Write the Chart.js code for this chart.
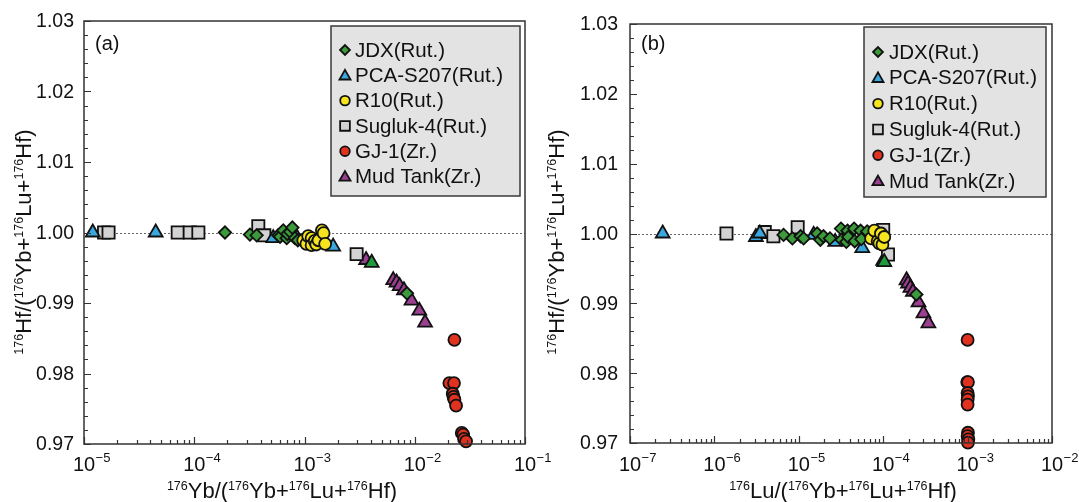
<!DOCTYPE html>
<html><head><meta charset="utf-8">
<script src="https://cdn.jsdelivr.net/npm/chart.js@4.4.1/dist/chart.umd.min.js"></script>
<style>
html,body{margin:0;padding:0;background:#fff;}
body{width:1079px;height:502px;position:relative;overflow:hidden;}
canvas{position:absolute;top:0;left:0;}
</style></head><body>
<canvas id="ca" width="1079" height="502"></canvas>
<canvas id="cb" width="1079" height="502"></canvas>
<script>
// ---------- data ----------
const seriesLabels = ['JDX(Rut.)','PCA-S207(Rut.)','R10(Rut.)','Sugluk-4(Rut.)','GJ-1(Zr.)','Mud Tank(Zr.)'];
const yTickValues = [0.97,0.98,0.99,1.00,1.01,1.02,1.03];
const yTickLabels = ['0.97','0.98','0.99','1.00','1.01','1.02','1.03'];
const xDecadesA = [-5,-4,-3,-2,-1];
const xDecadesB = [-7,-6,-5,-4,-3,-2];

// Panel (a): x = 176Yb/(176Yb+176Lu+176Hf), y = 176Hf/(176Yb+176Lu+176Hf)
const jdxA_x = [1.90e-4,3.2e-4,3.68e-4,5.78e-4,6.0e-4,6.42e-4,6.9e-4,7.0e-4,7.4e-4,7.76e-4,8.2e-4,8.7e-4,8.5e-3];
const jdxA_y = [1.0000,0.9997,0.9996,0.9996,0.9994,1.0003,0.9992,0.9998,1.0001,1.0007,0.9992,0.9989,0.99137];
const pcaA_x = [1.2e-5,4.47e-5,5.21e-4,8.1e-4,1.82e-3];
const pcaA_y = [1.0000,1.0000,0.9992,0.9999,0.9980];
const r10A_x = [9.75e-4,1.04e-3,1.08e-3,1.16e-3,1.16e-3,1.24e-3,1.28e-3,1.34e-3,1.44e-3,1.49e-3,1.54e-3];
const r10A_y = [0.9989,0.9984,0.9995,0.9992,0.9982,0.9988,0.9983,0.9989,1.0003,0.9999,0.9984];
const sugA_x = [1.52e-5,1.67e-5,7.08e-5,9.1e-5,1.09e-4,3.81e-4,4.32e-4,2.97e-3];
const sugA_y = [1.0000,1.0000,1.0000,1.0000,1.0000,1.0009,0.9996,0.99693];
const gjA_x = [2.29e-2,2.06e-2,2.27e-2,2.21e-2,2.25e-2,2.29e-2,2.37e-2,2.67e-2,2.75e-2,2.80e-2,2.92e-2];
const gjA_y = [0.98477,0.97864,0.97864,0.97713,0.97668,0.97628,0.97543,0.97157,0.97133,0.97072,0.97038];
const mudA_x = [3.62e-3,6.38e-3,6.83e-3,7.3e-3,7.98e-3,9.35e-3,1.10e-2,1.24e-2];
const mudA_y = [0.9961,0.99325,0.9929,0.9924,0.9918,0.99033,0.98891,0.98721];
const othA_x = [4.07e-3];
const othA_y = [0.9957];

// Panel (b): x = 176Lu/(176Yb+176Lu+176Hf)
const jdxB_x = [6.6e-6,8.4e-6,1.05e-5,1.14e-5,1.65e-5,1.8e-5,1.96e-5,2.34e-5,3.16e-5,3.22e-5,3.66e-5,3.78e-5,3.86e-5,4.52e-5,4.6e-5,5.4e-5,5.5e-5,6.46e-5,2.47e-4];
const jdxB_y = [0.9998,0.9993,0.9996,0.9993,1.0000,0.9991,0.9996,0.9993,1.0007,0.9991,0.9988,1.0004,0.9995,1.0007,0.9989,1.0004,0.9992,1.0003,0.99127];
const pcaB_x = [2.44e-7,3.1e-6,3.45e-6,1.5e-5,2.7e-5,5.65e-5];
const pcaB_y = [1.0000,0.9995,1.0000,0.9998,0.9988,0.9979];
const r10B_x = [7.19e-5,7.85e-5,8.6e-5,9.0e-5,9.4e-5,9.8e-5,1.03e-4];
const r10B_y = [0.9993,1.0004,0.9989,0.9986,1.0000,0.9984,0.9995];
const sugB_x = [1.39e-6,3.95e-6,5.0e-6,9.7e-6,1.0e-4,1.14e-4];
const sugB_y = [1.0000,1.0002,0.9996,1.0009,1.0005,0.9970];
const gjB_x = [1.00e-3,0.99e-3,1.01e-3,1.00e-3,1.01e-3,1.00e-3,1.00e-3,1.01e-3,1.00e-3,1.02e-3,1.01e-3];
const gjB_y = [0.98476,0.97873,0.97873,0.97716,0.97668,0.97621,0.9755,0.97147,0.97099,0.97051,0.97004];
const mudB_x = [1.0e-4,1.89e-4,1.97e-4,2.1e-4,2.25e-4,2.62e-4,3.0e-4,3.43e-4];
const mudB_y = [0.9961,0.9933,0.99284,0.99221,0.99164,0.99013,0.98856,0.98714];
const othB_x = [1.03e-4];
const othB_y = [0.9959];

// ---------- styles ----------
const FONT = '"Liberation Sans", Arial, Helvetica, sans-serif';
const STY = [
  {shape:'rectRot',  color:'#3b9b3b', r:6.2, order:2},
  {shape:'triangle', color:'#3aa7de', r:8.0, order:3},
  {shape:'circle',   color:'#f5e41e', r:6.0, order:1},
  {shape:'rect',     color:'#d3d3d3', r:8.6, order:4},
  {shape:'circle',   color:'#e1311f', r:6.0, order:6},
  {shape:'triangle', color:'#9b3f91', r:8.0, order:5},
  {shape:'triangle', color:'#1f9a3d', r:8.0, order:2}
];

function pts(xs, ys){ return xs.map((x,i)=>({x:x, y:ys[i]})); }

function drawShape(ctx, shape, x, y, r, fill){
  ctx.beginPath();
  if (shape==='circle'){ ctx.arc(x,y,r,0,Math.PI*2); }
  else if (shape==='rect'){ const s=r*Math.SQRT1_2; ctx.rect(x-s,y-s,2*s,2*s); }
  else if (shape==='rectRot'){ ctx.moveTo(x-r,y); ctx.lineTo(x,y-r); ctx.lineTo(x+r,y); ctx.lineTo(x,y+r); ctx.closePath(); }
  else if (shape==='triangle'){ ctx.moveTo(x,y-r); ctx.lineTo(x+0.866*r,y+0.5*r); ctx.lineTo(x-0.866*r,y+0.5*r); ctx.closePath(); }
  ctx.fillStyle=fill; ctx.fill();
  ctx.lineWidth=1.8; ctx.strokeStyle='#111'; ctx.stroke();
}

function richWidth(ctx, parts, M, S){
  let w=0;
  for (const p of parts){ ctx.font=(p[1]?S:M)+'px '+FONT; w+=ctx.measureText(p[0]).width; }
  return w;
}
function drawRich(ctx, parts, x, y, M, S, raise){
  let cx=x;
  ctx.textAlign='left'; ctx.textBaseline='alphabetic';
  for (const p of parts){
    ctx.font=(p[1]?S:M)+'px '+FONT;
    ctx.fillText(p[0], cx, p[1]? y-raise : y);
    cx+=ctx.measureText(p[0]).width;
  }
}
const TITLE_Y = [['176',1],['Hf/(',0],['176',1],['Yb+',0],['176',1],['Lu+',0],['176',1],['Hf)',0]];
const TITLE_XA = [['176',1],['Yb/(',0],['176',1],['Yb+',0],['176',1],['Lu+',0],['176',1],['Hf)',0]];
const TITLE_XB = [['176',1],['Lu/(',0],['176',1],['Yb+',0],['176',1],['Lu+',0],['176',1],['Hf)',0]];

function decor(P){
  return {
    id:'decor',
    beforeDatasetsDraw(chart){
      const ctx=chart.ctx, a=chart.chartArea, ys=chart.scales.y;
      ctx.save();
      ctx.strokeStyle='#666'; ctx.lineWidth=1; ctx.setLineDash([2,2]);
      const py=Math.round(ys.getPixelForValue(1.0))+0.5;
      ctx.beginPath(); ctx.moveTo(a.left,py); ctx.lineTo(a.right,py); ctx.stroke();
      ctx.restore();
    },
    afterDatasetsDraw(chart){
      const ctx=chart.ctx, a=chart.chartArea, xs=chart.scales.x, ys=chart.scales.y;
      ctx.save();
      // frame
      ctx.strokeStyle='#333'; ctx.lineWidth=1.5;
      ctx.strokeRect(a.left,a.top,a.right-a.left,a.bottom-a.top);
      // y ticks (inward, left axis)
      ctx.lineWidth=1.2; ctx.beginPath();
      for (let i=0;i<=30;i++){
        const v=0.97+i*0.002, py=Math.round(ys.getPixelForValue(v))+0.5;
        const L=(i%5===0)?7:4;
        ctx.moveTo(a.left,py); ctx.lineTo(a.left+L,py);
      }
      // x ticks (inward, bottom)
      const decs=P.decades;
      for (let di=0;di<decs.length;di++){
        const d=decs[di];
        for (let k=1;k<=9;k++){
          if (di===decs.length-1 && k>1) break;
          const px=Math.round(xs.getPixelForValue(k*Math.pow(10,d)))+0.5;
          const L=(k===1)?7:4;
          ctx.moveTo(px,a.bottom); ctx.lineTo(px,a.bottom-L);
        }
      }
      ctx.stroke();
      // y tick labels
      ctx.fillStyle='#111';
      ctx.font='19.5px '+FONT; ctx.textAlign='right'; ctx.textBaseline='middle';
      yTickValues.forEach((v,i)=>{ ctx.fillText(yTickLabels[i], P.yLabelRight, ys.getPixelForValue(v)+1); });
      // x tick labels: 10 with superscript exponent
      decs.forEach(d=>{
        const px=xs.getPixelForValue(Math.pow(10,d));
        ctx.font='20px '+FONT; ctx.textAlign='center'; ctx.textBaseline='alphabetic';
        const w=ctx.measureText('10').width;
        ctx.fillText('10', px, P.xLabelBase);
        ctx.font='13px '+FONT; ctx.textAlign='left';
        ctx.fillText('\u2212'+Math.abs(d), px+w/2+0.5, P.xLabelBase-9);
      });
      // x title
      const wx=richWidth(ctx,P.xTitle,22,12.5);
      drawRich(ctx,P.xTitle,P.xTitleCx-wx/2,P.xTitleBase,22,12.5,8);
      // y title
      const wy=richWidth(ctx,TITLE_Y,22,12.5);
      ctx.save(); ctx.translate(P.yTitleCx,P.yTitleCy); ctx.rotate(-Math.PI/2);
      drawRich(ctx,TITLE_Y,-wy/2,8,22,12.5,8);
      ctx.restore();
      // panel label
      ctx.font='20px '+FONT; ctx.textAlign='left'; ctx.textBaseline='alphabetic';
      ctx.fillText(P.panel, P.panelX, P.panelBase);
      // legend
      const L=P.legend;
      ctx.fillStyle='#e3e3e3'; ctx.fillRect(L.x,L.y,L.w,L.h);
      ctx.strokeStyle='#3a3a3a'; ctx.lineWidth=1.5; ctx.strokeRect(L.x,L.y,L.w,L.h);
      for (let i=0;i<seriesLabels.length;i++){
        const cy=L.row0+i*L.dy, s=STY[i];
        drawShape(ctx,s.shape,L.mx,cy+(s.shape==='triangle'?1:0),s.r*0.8,s.color);
        ctx.fillStyle='#111'; ctx.font='20.5px '+FONT; ctx.textAlign='left'; ctx.textBaseline='middle';
        ctx.fillText(seriesLabels[i], L.tx, cy+1);
      }
      ctx.restore();
    }
  };
}

function makeDatasets(list){
  return list.map((d,i)=>({
    label: i<seriesLabels.length ? seriesLabels[i] : '',
    data: pts(d[0],d[1]),
    pointStyle: STY[i].shape,
    pointRadius: STY[i].r,
    pointBackgroundColor: STY[i].color,
    pointBorderColor: '#111',
    pointBorderWidth: 1.8,
    order: STY[i].order,
    clip: false,
    showLine: false
  }));
}

function makeChart(id, P){
  return new Chart(document.getElementById(id), {
    type:'scatter',
    data:{ datasets: makeDatasets(P.series) },
    options:{
      responsive:false, animation:false, devicePixelRatio:1, events:[],
      layout:{ padding:P.pad },
      plugins:{ legend:{display:false}, tooltip:{enabled:false} },
      scales:{
        x:{ type:'logarithmic', min:Math.pow(10,P.decades[0]), max:Math.pow(10,P.decades[P.decades.length-1]), display:false },
        y:{ type:'linear', min:0.97, max:1.03, display:false }
      }
    },
    plugins:[decor(P)]
  });
}

makeChart('ca', {
  series:[[jdxA_x,jdxA_y],[pcaA_x,pcaA_y],[r10A_x,r10A_y],[sugA_x,sugA_y],[gjA_x,gjA_y],[mudA_x,mudA_y],[othA_x,othA_y]],
  decades:xDecadesA,
  pad:{left:84,right:1079-525,top:21,bottom:58},
  yLabelRight:74, xLabelBase:471, xTitle:TITLE_XA, xTitleCx:282, xTitleBase:498,
  yTitleCx:23, yTitleCy:242, panel:'(a)', panelX:95, panelBase:50,
  legend:{x:331,y:26,w:189,h:170,row0:50,dy:25.3,mx:345,tx:355}
});
makeChart('cb', {
  series:[[jdxB_x,jdxB_y],[pcaB_x,pcaB_y],[r10B_x,r10B_y],[sugB_x,sugB_y],[gjB_x,gjB_y],[mudB_x,mudB_y],[othB_x,othB_y]],
  decades:xDecadesB,
  pad:{left:630,right:1079-1052,top:24,bottom:59},
  yLabelRight:618, xLabelBase:471, xTitle:TITLE_XB, xTitleCx:843, xTitleBase:498,
  yTitleCx:556, yTitleCy:242, panel:'(b)', panelX:641, panelBase:50,
  legend:{x:864,y:27,w:182,h:170,row0:52,dy:25.8,mx:878,tx:889}
});
</script>
</body></html>
